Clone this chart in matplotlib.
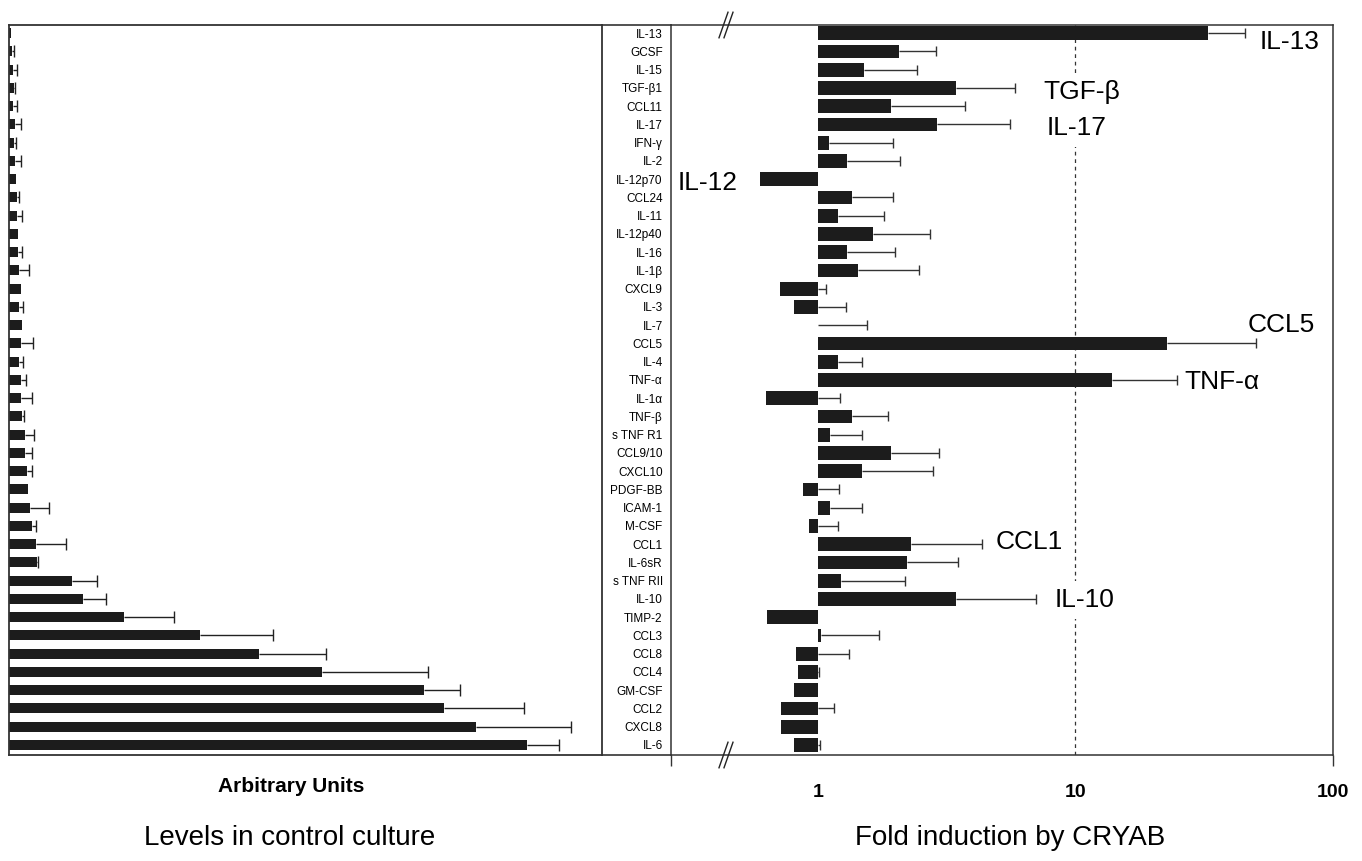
import matplotlib
matplotlib.use("Agg")
import matplotlib.pyplot as plt
import numpy as np
from matplotlib.lines import Line2D

plt.rcParams['font.family'] = ['Liberation Sans', 'DejaVu Sans']

# cytokines, top to bottom
cytokines = ["IL-13", "GCSF", "IL-15", "TGF-β1", "CCL11", "IL-17", "IFN-γ", "IL-2",
             "IL-12p70", "CCL24", "IL-11", "IL-12p40", "IL-16", "IL-1β", "CXCL9", "IL-3",
             "IL-7", "CCL5", "IL-4", "TNF-α", "IL-1α", "TNF-β", "s TNF R1", "CCL9/10",
             "CXCL10", "PDGF-BB", "ICAM-1", "M-CSF", "CCL1", "IL-6sR", "s TNF RII", "IL-10",
             "TIMP-2", "CCL3", "CCL8", "CCL4", "GM-CSF", "CCL2", "CXCL8", "IL-6"]

# levels in control culture (arbitrary units) and SD (0 = no error bar)
control_level = [0.3, 0.5, 0.62, 0.84, 0.73, 1.0, 0.9, 1.0, 1.13, 1.3,
                 1.4, 1.57, 1.57, 1.74, 1.97, 1.74, 2.14, 1.97, 1.74, 1.97,
                 2.0, 2.14, 2.7, 2.7, 3.1, 3.26, 3.6, 3.9, 4.5, 4.8,
                 10.6, 12.4, 19.4, 32.2, 42.2, 52.8, 69.9, 73.4, 78.7, 87.4]
control_sd = [0.0, 0.4, 0.68, 0.12, 0.57, 1.0, 0.28, 1.1, 0.0, 0.4,
              0.85, 0.0, 0.68, 1.66, 0.0, 0.66, 0.0, 2.13, 0.66, 0.9,
              1.8, 0.36, 1.6, 1.2, 0.8, 0.0, 3.1, 0.7, 5.1, 0.1,
              4.2, 3.9, 8.5, 12.4, 11.2, 17.9, 6.2, 13.4, 16.1, 5.3]

# fold induction by CRYAB and upper end of error bar (nan = no error bar)
fold = [32.7, 2.06, 1.51, 3.43, 1.93, 2.9, 1.1, 1.3, 0.595, 1.36,
        1.2, 1.63, 1.3, 1.43, 0.71, 0.81, 1.0, 22.7, 1.2, 13.9,
        0.628, 1.36, 1.11, 1.93, 1.49, 0.877, 1.11, 0.92, 2.3, 2.21,
        1.23, 3.43, 0.632, 1.03, 0.826, 0.834, 0.81, 0.72, 0.72, 0.81]
fold_err_end = [45.5, 2.87, 2.43, 5.8, 3.74, 5.58, 1.96, 2.08, np.nan, 1.96,
                1.81, 2.72, 2.0, 2.48, 1.08, 1.29, 1.55, 50.1, 1.49, 24.8,
                1.22, 1.87, 1.48, 2.95, 2.81, 1.21, 1.48, 1.2, 4.32, 3.49,
                2.18, 7.05, np.nan, 1.73, 1.32, 1.01, np.nan, 1.15, np.nan, 1.02]

# highlighted cytokines: (label, x position (fold), row position)
callouts = [("IL-13", 52.0, 0.5), ("TGF-β", 7.5, 3.2), ("IL-17", 7.7, 5.2),
            ("IL-12", 0.285, 8.2), ("CCL5", 46.5, 16.0), ("TNF-α", 26.5, 19.1),
            ("CCL1", 4.9, 27.9), ("IL-10", 8.3, 31.05)]

W, H = 1362, 861
fig = plt.figure(figsize=(W / 100, H / 100), dpi=100)

top_px, bot_px = 25, 755
ax_b = 1 - bot_px / H
ax_h = (bot_px - top_px) / H
ax1 = fig.add_axes([9 / W, ax_b, (602 - 9) / W, ax_h])
ax2 = fig.add_axes([671 / W, ax_b, (1333 - 671) / W, ax_h])

y = np.arange(len(cytokines))
ylim = (len(cytokines) - 0.45, -0.45)
frame_col = "#333333"
bar_col = "#1c1c1c"

############ left panel: control levels ############
ax1.barh(y, control_level, height=0.55, color=bar_col, zorder=2)
lvl = np.array(control_level)
sd = np.array(control_sd)
m = sd > 0
ax1.hlines(y[m], lvl[m], lvl[m] + sd[m], color="#222222", lw=1.0, zorder=3)
ax1.plot(lvl[m] + sd[m], y[m], ls="none", marker="|", ms=8, mew=1.0, color="#222222", zorder=3)
ax1.set_xlim(0, 100)
ax1.set_ylim(*ylim)
ax1.set_xticks([])
ax1.set_yticks([])
for s in ax1.spines.values():
    s.set_color(frame_col)
    s.set_linewidth(1.3)

############ right panel: fold induction ############
f = np.array(fold)
ax2.set_xscale("log")
ax2.axvline(10, ls=(0, (3, 3)), lw=0.9, color="#333333", zorder=1)
ax2.barh(y, f - 1, left=1, height=0.75, color=bar_col, zorder=2)
e = np.array(fold_err_end)
m2 = ~np.isnan(e)
start = np.maximum(f, 1)
ax2.hlines(y[m2], start[m2], e[m2], color="#333333", lw=1.0, zorder=3)
ax2.plot(e[m2], y[m2], ls="none", marker="|", ms=7, mew=1.0, color="#333333", zorder=3)

xmin = 0.269
ax2.set_xlim(xmin, 100)
ax2.set_ylim(*ylim)
ax2.set_yticks(y)
ax2.set_yticklabels(cytokines, fontsize=8.5)
ax2.tick_params(axis="y", length=0, pad=6)

ax2.xaxis.remove_overlapping_locs = False
ax2.set_xticks([xmin, 100])
ax2.set_xticklabels(["", ""])
ax2.set_xticks([1, 10, 100], minor=True)
ax2.set_xticklabels(["1", "10", "100"], minor=True, fontsize=14, fontweight="bold")
ax2.tick_params(axis="x", which="major", length=8, width=1, direction="out", color=frame_col)
ax2.tick_params(axis="x", which="minor", length=0, pad=21)
for s in ax2.spines.values():
    s.set_color(frame_col)
    s.set_linewidth(1.1)

# labels sit just above the dashed line, under bars, whiskers and frame
for label, xv, yv in callouts:
    ax2.text(xv, yv, label, fontsize=19, ha="left", va="center", zorder=1.5,
             bbox=dict(fc="white", ec="none", pad=5))

# axis break marks
bx = (719 - 671) / (1333 - 671)
dx = 9 / (1333 - 671)
gap = 5 / (1333 - 671)
for yy in (1.0, 0.0):
    for k in range(2):
        x0 = bx + k * gap
        ax2.plot([x0, x0 + dx], [yy - 0.0175, yy + 0.0175], color="#222222", lw=1.0,
                 transform=ax2.transAxes, clip_on=False, zorder=5)

# frame lines across the label column
for ypx in (top_px, bot_px):
    fig.add_artist(Line2D([602 / W, 671 / W], [1 - ypx / H, 1 - ypx / H],
                          color=frame_col, lw=1.2))

fig.text(291 / W, 1 - 787 / H, "Arbitrary Units", ha="center", va="center",
         fontsize=15, fontweight="bold")
fig.text(290 / W, 1 - 838 / H, "Levels in control culture", ha="center", va="center", fontsize=20)
fig.text(1010 / W, 1 - 838 / H, "Fold induction by CRYAB", ha="center", va="center", fontsize=20)

fig.savefig("out.png", dpi=100)
